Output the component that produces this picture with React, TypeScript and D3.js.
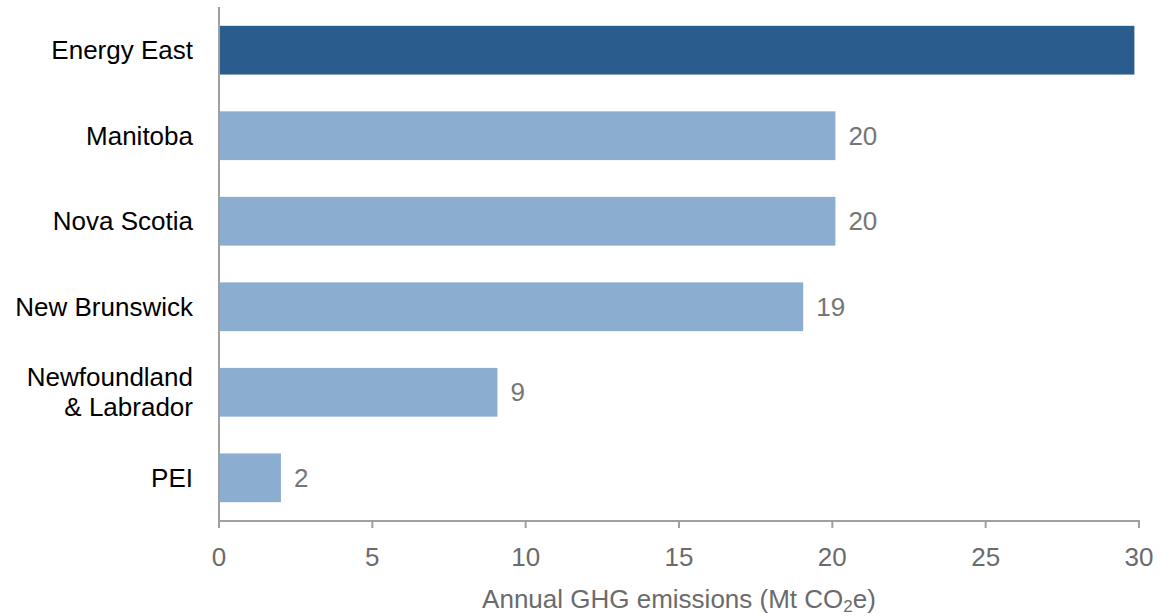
import * as d3 from 'd3'

const categories = ['Energy East', 'Manitoba', 'Nova Scotia', 'New Brunswick', 'Newfoundland\n& Labrador', 'PEI']
const emissions = [29.85, 20.1, 20.1, 19.05, 9.08, 2.02]
const valueLabels = ['', '20', '20', '19', '9', '2']
const highlighted = ['Energy East']
const xTicks = [0, 5, 10, 15, 20, 25, 30]

const width = 1161
const height = 616
const margin = { top: 7, right: 20, bottom: 95, left: 219 }

export default function App() {
  const x = d3.scaleLinear().domain([0, 30]).range([margin.left, margin.left + 920])
  const y = d3
    .scaleBand<string>()
    .domain(categories)
    .range([margin.top, height - margin.bottom])
    .paddingInner(0.43)
    .paddingOuter(0.22)
  const axisY = height - margin.bottom
  const font = 'Arial, "Liberation Sans", sans-serif'
  const fs = 26

  return (
    <svg
      width={width}
      height={height}
      style={{ position: 'absolute', left: 0, top: 0, fontFamily: font }}
    >
      {categories.map((c, i) => {
        const y0 = y(c)!
        const cy = y0 + y.bandwidth() / 2
        const lines = c.split('\n')
        return (
          <g key={c}>
            <rect
              x={x(0)}
              y={y0}
              width={x(emissions[i]) - x(0)}
              height={y.bandwidth()}
              fill={highlighted.includes(c) ? '#2a5d8e' : '#8badcf'}
            />
            <text textAnchor="end" fontSize={fs} fill="#000">
              {lines.map((l, j) => (
                <tspan
                  key={j}
                  x={margin.left - 26}
                  y={cy + (j - (lines.length - 1) / 2) * 30}
                  dominantBaseline="central"
                >
                  {l}
                </tspan>
              ))}
            </text>
            {valueLabels[i] && (
              <text
                x={x(emissions[i]) + 13}
                y={cy}
                dominantBaseline="central"
                fontSize={fs}
                fill="#767676"
              >
                {valueLabels[i]}
              </text>
            )}
          </g>
        )
      })}
      <line x1={x(0)} x2={x(0)} y1={margin.top} y2={axisY} stroke="#a0a0a0" strokeWidth={2} />
      <line x1={x(0) - 1} x2={x(30) + 1} y1={axisY} y2={axisY} stroke="#a0a0a0" strokeWidth={2} />
      {xTicks.map((t) => (
        <g key={t}>
          <line x1={x(t)} x2={x(t)} y1={axisY} y2={axisY + 7} stroke="#a0a0a0" strokeWidth={2} />
          <text
            x={x(t)}
            y={axisY + 36}
            textAnchor="middle"
            dominantBaseline="central"
            fontSize={fs}
            fill="#6b6b6b"
          >
            {t}
          </text>
        </g>
      ))}
      <text
        x={(x(0) + x(30)) / 2}
        y={axisY + 78}
        textAnchor="middle"
        dominantBaseline="central"
        fontSize={fs}
        fill="#6b6b6b"
      >
        Annual GHG emissions (Mt CO
        <tspan fontSize={17} dy={7}>2</tspan>
        <tspan dy={-7}>e)</tspan>
      </text>
    </svg>
  )
}
